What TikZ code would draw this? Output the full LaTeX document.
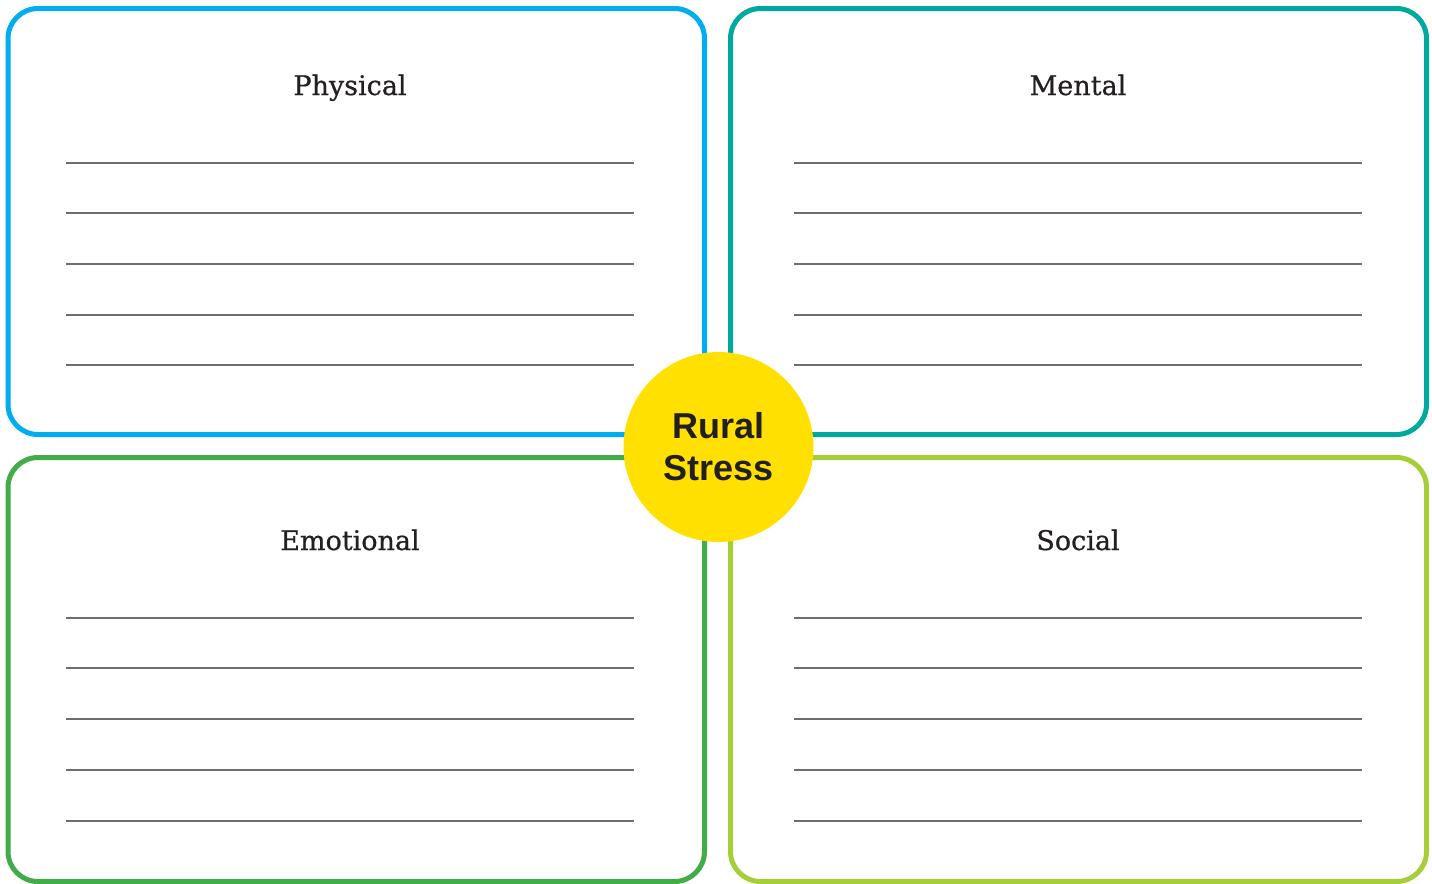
\documentclass[tikz,border=0pt]{standalone}
\usepackage{fontspec}
\setmainfont{DejaVu Serif}
\newfontfamily\headfont[FakeBold=0.7]{DejaVu Serif}
\newfontfamily\hubfont{Liberation Sans}
\definecolor{physcol}{HTML}{00AEEF}
\definecolor{mentcol}{HTML}{00A99D}
\definecolor{emocol}{HTML}{41AD49}
\definecolor{soccol}{HTML}{A6CE39}
\definecolor{hubcol}{HTML}{FFE000}
\definecolor{ink}{HTML}{231F20}
\definecolor{rulegray}{HTML}{6D6E71}
\begin{document}
\begin{tikzpicture}[x=0.5pt,y=-0.5pt,
    quad/.style={line width=2.5pt,rounded corners=15pt},
    title/.style={anchor=base,text=ink,font=\headfont\fontsize{13.5}{16}\selectfont},
    rule/.style={draw=rulegray,line width=0.55pt}]
  \useasboundingbox (0,0) rectangle (1432,884);
  % four quadrants
  \draw[quad,draw=physcol] (8,8.5) rectangle (704.5,434.5);
  \draw[quad,draw=mentcol] (730.5,8.5) rectangle (1426.5,434.5);
  \draw[quad,draw=emocol] (8,457.5) rectangle (704.5,881.5);
  \draw[quad,draw=soccol] (730.5,457.5) rectangle (1426.5,881.5);
  \node[title] (phys) at (350,95) {Physical};
  \node[title] (ment) at (1078,95) {Mental};
  \node[title] (emo) at (350,550) {Emotional};
  \node[title] (soc) at (1078,550) {Social};
  \begin{scope}[rule]
    \draw (66,163) -- (634,163);
    \draw (66,213) -- (634,213);
    \draw (66,264) -- (634,264);
    \draw (66,315) -- (634,315);
    \draw (66,365) -- (634,365);
    \draw (794,163) -- (1362,163);
    \draw (794,213) -- (1362,213);
    \draw (794,264) -- (1362,264);
    \draw (794,315) -- (1362,315);
    \draw (794,365) -- (1362,365);
    \draw (66,618) -- (634,618);
    \draw (66,668) -- (634,668);
    \draw (66,719) -- (634,719);
    \draw (66,770) -- (634,770);
    \draw (66,821) -- (634,821);
    \draw (794,618) -- (1362,618);
    \draw (794,668) -- (1362,668);
    \draw (794,719) -- (1362,719);
    \draw (794,770) -- (1362,770);
    \draw (794,821) -- (1362,821);
  \end{scope}
  % centre
  \node[circle,fill=hubcol,minimum size=95pt,inner sep=0pt,align=center,
    text=ink,font=\hubfont\bfseries\fontsize{18}{21}\selectfont]
    (hub) at (718.5,447) {Rural\\Stress};
\end{tikzpicture}
\end{document}
